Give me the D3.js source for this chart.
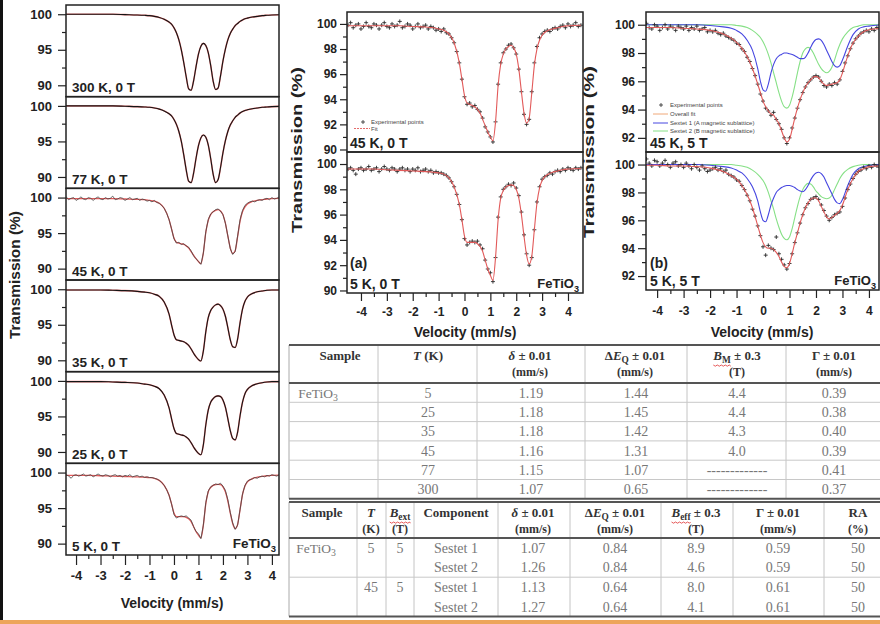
<!DOCTYPE html>
<html>
<head>
<meta charset="utf-8">
<script src="https://cdn.jsdelivr.net/npm/d3@7"></script>
<style>
  body { margin: 0; background: #fff; }
  svg { display: block; }
</style>
</head>
<body>
<svg id="fig" width="880" height="624"></svg>
<script>
// ---- spectra data (velocity in mm/s, transmission in %) ----
const velocity = [-4.5,-4.4,-4.3,-4.2,-4.1,-4.0,-3.9,-3.8,-3.7,-3.6,-3.5,-3.4,-3.3,-3.2,-3.1,-3.0,-2.9,-2.8,-2.7,-2.6,
  -2.5,-2.4,-2.3,-2.2,-2.1,-2.0,-1.9,-1.8,-1.7,-1.6,-1.5,-1.4,-1.3,-1.2,-1.1,-1.0,-0.9,-0.8,-0.7,-0.6,
  -0.5,-0.4,-0.3,-0.2,-0.1,0.0,0.1,0.2,0.3,0.4,0.5,0.6,0.7,0.8,0.9,1.0,1.1,1.2,1.3,1.4,
  1.5,1.6,1.7,1.8,1.9,2.0,2.1,2.2,2.3,2.4,2.5,2.6,2.7,2.8,2.9,3.0,3.1,3.2,3.3,3.4,
  3.5,3.6,3.7,3.8,3.9,4.0,4.1,4.2,4.3,4.4,4.5];

const exp45K0T = [99.9,100.1,99.7,99.9,100.0,99.6,99.8,100.1,99.8,99.7,
  100.0,99.9,99.6,99.9,100.1,99.8,99.7,100.0,99.8,99.9,
  100.2,99.7,99.8,100.0,99.9,99.6,99.8,100.0,99.7,99.8,
  99.9,99.6,99.8,99.7,99.5,99.6,
  99.4,99.6,99.3,99.2,98.9,98.5,97.8,96.9,95.6,94.2,
  93.6,93.7,93.4,93.5,93.2,93.0,92.5,91.8,91.4,91.0,
  90.6,92.2,95.2,96.9,97.7,98.0,98.3,98.4,98.1,97.6,
  96.4,94.6,92.8,92.0,92.4,94.6,96.9,98.2,98.9,99.2,
  99.4,99.5,99.4,99.6,99.7,99.6,99.8,99.9,99.7,100.0,
  99.8,99.9,100.1,99.8,99.9];

const exp5K0T = [99.6,99.7,99.5,99.2,99.6,99.7,99.5,99.6,99.8,99.5,
  99.6,99.7,99.4,99.6,99.8,99.6,99.5,99.7,99.6,99.4,
  99.6,99.7,99.5,99.6,99.4,99.6,99.5,99.7,99.4,99.5,
  99.6,99.4,99.5,99.3,99.4,99.3,
  99.3,99.2,99.1,98.9,98.6,98.2,97.6,96.8,95.6,94.1,
  93.6,93.8,93.9,93.8,93.9,93.6,93.3,92.4,91.7,91.4,
  90.7,92.6,95.8,97.4,98.0,98.2,98.4,98.3,98.5,98.1,
  97.5,96.2,94.4,92.9,92.0,92.6,94.8,97.0,98.2,98.8,
  99.0,99.1,99.3,99.2,99.4,99.5,99.4,99.6,99.5,99.7,
  99.6,99.5,99.7,99.6,99.7];

const exp45K5T = [99.9,100.1,99.8,99.7,100.0,99.9,99.6,99.8,100.0,99.7,
  99.9,99.8,99.6,99.9,99.8,99.7,99.9,99.6,99.8,99.7,
  99.9,99.6,99.7,99.8,99.5,99.6,
  99.5,99.6,99.4,99.3,99.4,99.2,99.1,99.0,98.9,98.7,
  98.6,98.3,98.1,97.7,97.4,96.9,96.4,95.8,95.1,94.6,
  94.1,93.9,93.6,93.8,93.3,93.0,92.6,92.0,91.6,92.0,
  92.7,93.4,94.1,94.7,95.2,95.6,95.9,96.1,96.3,96.4,
  96.3,96.0,95.7,95.6,95.8,95.7,95.9,95.8,96.1,96.7,
  97.3,97.8,98.3,98.7,99.0,99.2,99.4,99.5,99.6,99.5,
  99.7,99.6,99.8,99.7,99.6];

const exp5K5T = [100.2,100.4,100.1,99.9,100.3,100.2,99.9,100.1,100.3,100.0,
  99.8,100.1,100.2,99.9,100.0,99.8,100.1,99.9,99.7,100.0,
  99.8,99.6,99.9,99.7,99.5,99.6,
  99.7,99.8,99.6,99.7,99.5,99.6,99.3,99.2,99.1,98.9,
  98.8,98.5,98.2,97.8,97.4,96.8,96.3,95.6,94.9,94.1,
  93.5,94.2,94.0,93.9,94.8,93.6,93.2,92.8,92.5,92.9,
  93.6,94.4,95.1,95.8,96.4,96.9,97.2,97.5,97.6,97.7,
  97.5,97.1,96.7,96.3,96.0,96.2,96.4,96.5,96.6,97.0,
  97.6,98.2,98.6,99.0,99.3,99.5,99.6,99.8,99.7,99.9,
  99.8,100.0,99.9,99.8,99.9];

// fitted curves, sampled on a coarser velocity grid
const fitV = [-4.5,-4.0,-3.5,-3.0,-2.5,-2.0,-1.5,-1.2,-1.0,-0.8,-0.6,-0.4,-0.2,
  -0.1,0.0,0.1,0.2,0.3,0.4,0.5,0.6,0.7,0.8,0.9,1.0,1.1,1.2,1.3,1.4,1.5,1.6,1.7,1.8,1.9,2.0,
  2.1,2.2,2.3,2.4,2.5,2.6,2.7,2.8,2.9,3.0,3.2,3.4,3.6,3.8,4.0,4.5];

const fit300K = [100,100,100,100,100,99.95,99.9,99.85,99.8,99.7,99.55,99.3,98.9,
  98.6,98.1,97.4,96.4,95.0,93.2,91.2,89.5,89.3,90.6,92.6,94.4,95.5,95.9,95.6,94.6,92.8,90.6,89.4,89.6,91.3,93.4,
  95.1,96.4,97.3,97.9,98.4,98.7,99.0,99.2,99.35,99.45,99.6,99.7,99.8,99.85,99.9,99.95];
const fit77K = [100,100,100,100,100,99.95,99.9,99.85,99.8,99.7,99.55,99.3,98.9,
  98.6,98.1,97.4,96.4,95.0,93.1,91.0,89.4,89.2,90.5,92.6,94.4,95.5,95.9,95.6,94.5,92.6,90.4,89.2,89.6,91.3,93.4,
  95.1,96.4,97.3,97.9,98.4,98.7,99.0,99.2,99.35,99.45,99.6,99.7,99.8,99.85,99.9,99.95];
const fit45K = [99.85,99.85,99.85,99.85,99.85,99.8,99.75,99.7,99.6,99.5,99.2,98.5,96.9,
  95.6,94.3,93.7,93.6,93.5,93.4,93.2,92.9,92.4,91.9,91.4,91.0,90.7,92.2,95.1,96.8,97.6,98.0,98.2,98.3,98.1,97.6,
  96.4,94.6,92.9,92.1,92.5,94.5,96.7,98.0,98.7,99.1,99.45,99.6,99.7,99.8,99.85,99.9];
const fit35K = [99.9,99.9,99.9,99.9,99.85,99.8,99.7,99.6,99.5,99.3,99.0,98.2,96.5,
  95.0,93.6,92.9,92.8,92.7,92.6,92.4,92.1,91.6,91.0,90.5,90.1,89.9,91.3,94.0,96.0,97.0,97.5,97.8,97.9,97.7,97.2,
  96.2,94.6,92.9,91.9,91.8,93.0,95.3,97.2,98.3,98.9,99.4,99.65,99.75,99.85,99.9,99.9];
const fit25K = [99.9,99.9,99.9,99.9,99.85,99.8,99.7,99.55,99.45,99.25,98.9,98.0,96.2,
  94.7,93.3,92.6,92.5,92.4,92.3,92.1,91.8,91.3,90.7,90.2,89.8,89.6,91.0,93.8,95.9,97.0,97.5,97.8,97.9,97.8,97.3,
  96.3,94.7,93.0,91.9,91.7,92.8,95.1,97.0,98.2,98.8,99.35,99.6,99.75,99.85,99.9,99.9];
const fit5K = [99.6,99.6,99.6,99.55,99.5,99.45,99.4,99.35,99.3,99.2,98.9,98.2,96.8,
  95.6,94.3,93.8,93.8,93.8,93.8,93.7,93.5,93.1,92.4,91.7,91.2,90.8,92.6,95.6,97.3,97.9,98.2,98.3,98.35,98.3,98.0,
  97.3,96.0,94.3,92.8,92.1,92.7,94.8,96.9,98.1,98.7,99.15,99.35,99.45,99.55,99.6,99.65];

const fit45K5T = [99.8,99.8,99.8,99.75,99.7,99.6,99.35,99.05,98.75,98.35,97.75,96.9,95.8,
  95.2,94.6,94.2,93.9,93.7,93.6,93.3,93.0,92.5,92.0,91.7,91.9,92.6,93.4,94.1,94.7,95.2,95.6,95.9,96.1,96.3,96.35,
  96.25,96.0,95.8,95.7,95.75,95.8,95.85,95.9,96.1,96.6,97.8,98.7,99.2,99.5,99.65,99.75];
const sextet1_45K = [100,100,100,100,100,99.95,99.85,99.75,99.6,99.35,98.9,98.2,96.9,
  96.0,95.4,95.3,95.8,96.6,97.2,97.6,97.8,97.9,98.0,98.0,97.95,97.9,97.8,97.7,97.6,97.6,97.7,98.0,98.4,98.75,98.95,
  99.0,98.9,98.6,98.2,97.8,97.4,97.1,97.0,97.1,97.5,98.5,99.3,99.7,99.85,99.9,100];
const sextet2_45K = [100,100,100,100,100,100,100,100,99.95,99.9,99.8,99.6,99.3,
  99.1,98.8,98.4,97.9,97.3,96.6,95.9,95.2,94.6,94.2,94.1,94.3,94.9,95.7,96.6,97.4,98.0,98.3,98.4,98.3,98.0,97.6,
  97.2,96.9,96.7,96.6,96.7,97.0,97.5,98.1,98.6,99.0,99.5,99.8,99.9,100,100,100];

const fit5K5T = [99.95,99.95,99.9,99.9,99.85,99.75,99.5,99.2,98.95,98.5,97.85,96.9,95.6,
  94.95,94.4,94.1,94.0,94.0,93.9,93.7,93.4,93.0,92.7,92.6,92.9,93.6,94.4,95.1,95.8,96.4,96.9,97.25,97.5,97.6,97.6,
  97.4,97.0,96.6,96.25,96.1,96.2,96.35,96.5,96.7,97.1,98.2,99.0,99.5,99.7,99.85,99.9];
const sextet1_5K = [100,100,100,100,100,99.95,99.85,99.75,99.6,99.4,99.0,98.4,97.4,
  96.6,96.0,95.9,96.4,97.1,97.6,98.0,98.2,98.35,98.45,98.5,98.5,98.45,98.35,98.2,98.1,98.05,98.2,98.5,98.9,99.2,99.4,
  99.45,99.35,99.1,98.7,98.3,97.9,97.5,97.25,97.2,97.5,98.5,99.3,99.7,99.85,99.95,100];
const sextet2_5K = [100,100,100,100,100,100,100,100,99.95,99.9,99.8,99.6,99.3,
  99.1,98.85,98.5,98.0,97.4,96.8,96.1,95.5,95.0,94.7,94.6,94.8,95.4,96.2,97.0,97.7,98.2,98.5,98.65,98.6,98.4,98.1,
  97.9,97.7,97.6,97.55,97.6,97.8,98.2,98.6,99.0,99.3,99.65,99.85,99.95,100,100,100];

// ---- labels and ticks ----
const leftLabels = ['300 K, 0 T', '77 K, 0 T', '45 K, 0 T', '35 K, 0 T', '25 K, 0 T', '5 K, 0 T'];
const velocityTicks = [-4, -3, -2, -1, 0, 1, 2, 3, 4];
const velocityMinor = [-3.5, -2.5, -1.5, -0.5, 0.5, 1.5, 2.5, 3.5];
const leftYTicks = [90, 95, 100];
const leftYMinor = [92.5, 97.5];
const midYTicks = [90, 92, 94, 96, 98, 100];
const midYMinor = [91, 93, 95, 97, 99];
const rightYTicks = [92, 94, 96, 98, 100];
const rightYMinor = [93, 95, 97, 99];
const legendA = ['Experimental points', 'Fit'];
const legendB = ['Experimental points', 'Overall fit', 'Sextet 1 (A magnetic sublattice)', 'Sextet 2 (B magnetic sublattice)'];

// ---- tables ----
const t1Head = [
  [[['Sample']], []],
  [[['T', 'i'], [' (K)']], []],
  [[['δ', 'i'], [' ± 0.01']], [['(mm/s)']]],
  [[['Δ'], ['E', 'i'], ['Q', 'sub'], [' ± 0.01']], [['(mm/s)']]],
  [[['B', 'i'], ['M', 'sub'], [' ± 0.3']], [['(T)']]],
  [[['Γ'], [' ± 0.01']], [['(mm/s)']]]
];
const t1Temp = ['5', '25', '35', '45', '77', '300'];
const t1Delta = ['1.19', '1.18', '1.18', '1.16', '1.15', '1.07'];
const t1DEQ = ['1.44', '1.45', '1.42', '1.31', '1.07', '0.65'];
const t1BM = ['4.4', '4.4', '4.3', '4.0', '-------------', '-------------'];
const t1Gamma = ['0.39', '0.38', '0.40', '0.39', '0.41', '0.37'];

const t2Head = [
  [[['Sample']], []],
  [[['T', 'i']], [['(K)']]],
  [[['B', 'i'], ['ext', 'sub']], [['(T)']]],
  [[['Component']], []],
  [[['δ', 'i'], [' ± 0.01']], [['(mm/s)']]],
  [[['Δ'], ['E', 'i'], ['Q', 'sub'], [' ± 0.01']], [['(mm/s)']]],
  [[['B', 'i'], ['eff', 'sub'], [' ± 0.3']], [['(T)']]],
  [[['Γ'], [' ± 0.01']], [['(mm/s)']]],
  [[['RA']], [['(%)']]]
];
const t2Temp = ['5', '', '45', ''];
const t2Bext = ['5', '', '5', ''];
const t2Comp = ['Sestet 1', 'Sestet 2', 'Sestet 1', 'Sestet 2'];
const t2Delta = ['1.07', '1.26', '1.13', '1.27'];
const t2DEQ = ['0.84', '0.84', '0.64', '0.64'];
const t2Beff = ['8.9', '4.6', '8.0', '4.1'];
const t2Gamma = ['0.59', '0.59', '0.61', '0.61'];
const t2RA = ['50', '50', '50', '50'];

// ---- drawing ----
const SANS = '"Liberation Sans", Arial, sans-serif';
const SERIF = '"Liberation Serif", "Times New Roman", serif';
const INK = '#222';
const RED = '#e25a5a';

const svg = d3.select('#fig');
const defs = svg.append('defs');
svg.append('rect').attr('width', 880).attr('height', 624).attr('fill', '#fff');

const pairs = (xs, ys) => xs.map((v, i) => [v, ys[i]]);

function styleAxis(g, size) {
  g.select('.domain').remove();
  g.selectAll('line').attr('stroke', INK).attr('stroke-width', 1.2);
  g.selectAll('text')
    .attr('font-family', SANS)
    .attr('font-weight', 'bold')
    .attr('font-size', size)
    .attr('fill', INK);
}

function drawAxes(g, x, y, c) {
  const [x0] = x.range();
  const [yb] = y.range();
  styleAxis(g.append('g').attr('transform', `translate(${x0},0)`)
    .call(d3.axisLeft(y).tickValues(c.yMajor).tickSize(c.majorLen).tickPadding(c.pad).tickFormat(d => String(d))), c.size);
  styleAxis(g.append('g').attr('transform', `translate(${x0},0)`)
    .call(d3.axisLeft(y).tickValues(c.yMinor).tickSize(c.minorLen).tickFormat('')), c.size);
  if (c.xAxis) {
    styleAxis(g.append('g').attr('transform', `translate(0,${yb})`)
      .call(d3.axisBottom(x).tickValues(velocityTicks).tickSize(c.xMajorLen).tickPadding(c.xPad).tickFormat(d => String(d))), c.size);
    styleAxis(g.append('g').attr('transform', `translate(0,${yb})`)
      .call(d3.axisBottom(x).tickValues(velocityMinor).tickSize(c.minorLen).tickFormat('')), c.size);
  }
}

function frame(g, x, y) {
  const [x0, x1] = x.range();
  const [yb, yt] = y.range();
  g.append('rect').attr('x', x0).attr('y', yt).attr('width', x1 - x0).attr('height', yb - yt)
    .attr('fill', 'none').attr('stroke', INK).attr('stroke-width', 1.5);
}

let clipId = 0;
function clipFor(x, y) {
  const id = 'clip' + (clipId++);
  const [x0, x1] = x.range();
  const [yb, yt] = y.range();
  defs.append('clipPath').attr('id', id).append('rect')
    .attr('x', x0).attr('y', yt).attr('width', x1 - x0).attr('height', yb - yt);
  return `url(#${id})`;
}

function curve(g, x, y, pts, color, width, interp) {
  g.append('path')
    .attr('d', d3.line().x(d => x(d[0])).y(d => y(d[1])).curve(interp || d3.curveMonotoneX)(pts))
    .attr('fill', 'none').attr('stroke', color).attr('stroke-width', width)
    .attr('stroke-linejoin', 'round');
}

function crosses(g, x, y, pts, r) {
  g.append('path')
    .attr('d', pts.map(p => `M${x(p[0]) - r},${y(p[1])}h${2 * r}M${x(p[0])},${y(p[1]) - r}v${2 * r}`).join(''))
    .attr('fill', 'none').attr('stroke', '#2a2a2a').attr('stroke-width', 0.9);
}

function label(g, x, y, txt, size, anchor) {
  return g.append('text').attr('x', x).attr('y', y).attr('font-family', SANS)
    .attr('font-weight', 'bold').attr('font-size', size).attr('fill', INK)
    .attr('text-anchor', anchor || 'start').text(txt);
}

function formula(g, x, y, size, anchor) {
  const t = label(g, x, y, '', size, anchor);
  t.append('tspan').text('FeTiO');
  t.append('tspan').attr('dy', 4).attr('font-size', size * 0.7).text('3');
}

function yTitle(g, cx, cy, len, size) {
  g.append('text').attr('transform', `translate(${cx},${cy}) rotate(-90)`)
    .attr('text-anchor', 'middle').attr('font-family', SANS).attr('font-weight', 'bold')
    .attr('font-size', size).attr('fill', INK)
    .attr('textLength', len).attr('lengthAdjust', 'spacingAndGlyphs')
    .text('Transmission (%)');
}

// left black edge and bottom orange rule
svg.append('rect').attr('x', 0).attr('y', 0).attr('width', 3).attr('height', 624).attr('fill', '#111');
svg.append('rect').attr('x', 0).attr('y', 620).attr('width', 880).attr('height', 4).attr('fill', '#eda55b');

// ---- left stack of six spectra ----
{
  const g = svg.append('g');
  const x = d3.scaleLinear().domain([-4.41, 4.29]).range([66, 279]);
  const top = 5, bottom = 555, h = (bottom - top) / 6;
  const leftFits = [fit300K, fit77K, fit45K, fit35K, fit25K, fit5K];
  const leftData = [null, null, exp45K0T, null, null, exp5K0T];
  leftFits.forEach((fit, i) => {
    const y = d3.scaleLinear().domain([88.4, 101.3]).range([top + (i + 1) * h, top + i * h]);
    const last = i === leftFits.length - 1;
    drawAxes(g, x, y, {
      yMajor: leftYTicks, yMinor: leftYMinor, majorLen: 8, minorLen: 4, pad: 6, size: 13,
      xAxis: last, xMajorLen: 10, xPad: 6
    });
    const pg = g.append('g').attr('clip-path', clipFor(x, y));
    const fitPts = pairs(fitV, fit);
    if (leftData[i]) {
      curve(pg, x, y, fitPts, RED, 1.3);
      curve(pg, x, y, pairs(velocity, leftData[i]), '#444', 0.8, d3.curveLinear);
    } else {
      curve(pg, x, y, fitPts, '#f08080', 1.6);
      curve(pg, x, y, fitPts, '#151515', 1.1);
    }
    frame(g, x, y);
    label(g, 72, top + (i + 1) * h - 4.5, leftLabels[i], 13.5);
    if (last) formula(g, 276, top + (i + 1) * h - 7, 13.5, 'end');
  });
  label(g, 172, 608, 'Velocity (mm/s)', 14, 'middle');
  yTitle(g, 20, 275, 128, 15);
}

// ---- (a) zero-field spectra ----
{
  const g = svg.append('g');
  const x = d3.scaleLinear().domain([-4.54, 4.58]).range([347, 583]);
  const panels = [
    { top: 12, bottom: 152, data: exp45K0T, fit: fit45K, text: '45 K, 0 T' },
    { top: 152, bottom: 293, data: exp5K0T, fit: fit5K, text: '5 K, 0 T' }
  ];
  panels.forEach((p, i) => {
    const y = d3.scaleLinear().domain([89.8, 100.95]).range([p.bottom, p.top]);
    drawAxes(g, x, y, {
      yMajor: midYTicks, yMinor: midYMinor, majorLen: 7, minorLen: 4, pad: 3, size: 12,
      xAxis: i === 1, xMajorLen: 8, xPad: 6
    });
    const pg = g.append('g').attr('clip-path', clipFor(x, y));
    crosses(pg, x, y, pairs(velocity, p.data), 2);
    curve(pg, x, y, pairs(fitV, p.fit), RED, 1.1);
    frame(g, x, y);
    label(g, 350, p.bottom - 4, p.text, 14);
    if (i === 0) {
      // legend
      const lg = g.append('g').attr('font-family', SANS).attr('font-size', 6).attr('fill', '#444');
      lg.append('path').attr('d', 'M361,122h4M363,120v4').attr('stroke', '#2a2a2a').attr('stroke-width', 0.8);
      lg.append('text').attr('x', 371).attr('y', 124).text(legendA[0]);
      lg.append('line').attr('x1', 354).attr('x2', 370).attr('y1', 128.5).attr('y2', 128.5)
        .attr('stroke', RED).attr('stroke-width', 0.9).attr('stroke-dasharray', '2,1');
      lg.append('text').attr('x', 371).attr('y', 130.5).text(legendA[1]);
    } else {
      label(g, 350, 268, '(a)', 14);
      formula(g, 579, p.bottom - 5, 13, 'end');
    }
  });
  label(g, 465, 337, 'Velocity (mm/s)', 14, 'middle');
  yTitle(g, 302, 150, 166, 15);
}

// ---- (b) 5 T spectra ----
{
  const g = svg.append('g');
  const x = d3.scaleLinear().domain([-4.42, 4.38]).range([646, 879]);
  const BLUE = '#4646e0', GREEN = '#86e086';
  const panels = [
    { top: 12, bottom: 152, data: exp45K5T, fit: fit45K5T, s1: sextet1_45K, s2: sextet2_45K, text: '45 K, 5 T' },
    { top: 152, bottom: 290, data: exp5K5T, fit: fit5K5T, s1: sextet1_5K, s2: sextet2_5K, text: '5 K, 5 T' }
  ];
  panels.forEach((p, i) => {
    const y = d3.scaleLinear().domain([91.0, 100.9]).range([p.bottom, p.top]);
    drawAxes(g, x, y, {
      yMajor: rightYTicks, yMinor: rightYMinor, majorLen: 8, minorLen: 4, pad: 3, size: 12,
      xAxis: i === 1, xMajorLen: 8, xPad: 8
    });
    const pg = g.append('g').attr('clip-path', clipFor(x, y));
    curve(pg, x, y, pairs(fitV, p.s2), GREEN, 1.1);
    curve(pg, x, y, pairs(fitV, p.s1), BLUE, 1.1);
    crosses(pg, x, y, pairs(velocity, p.data), 2);
    curve(pg, x, y, pairs(fitV, p.fit), RED, 1.1);
    frame(g, x, y);
    label(g, 650, p.bottom - 4, p.text, 14);
    if (i === 0) {
      const lg = g.append('g').attr('font-family', SANS).attr('font-size', 6).attr('fill', '#444');
      const ys = [105, 114, 123, 131];
      const cols = ['#2a2a2a', '#f0a878', BLUE, GREEN];
      legendB.forEach((t, k) => {
        if (k === 0) {
          lg.append('path').attr('d', `M659,${ys[k]}h4M661,${ys[k] - 2}v4`).attr('stroke', cols[k]).attr('stroke-width', 0.8);
        } else {
          lg.append('line').attr('x1', 653).attr('x2', 668).attr('y1', ys[k]).attr('y2', ys[k])
            .attr('stroke', cols[k]).attr('stroke-width', 1);
        }
        lg.append('text').attr('x', 670).attr('y', ys[k] + 2).text(t);
      });
    } else {
      label(g, 650, 268, '(b)', 14);
      formula(g, 876, p.bottom - 5, 13, 'end');
    }
  });
  label(g, 762, 337, 'Velocity (mm/s)', 14, 'middle');
  yTitle(g, 594, 152, 172, 15);
}

// ---- tables ----
function rich(parent, x, y, segs, size, weight, color) {
  const t = parent.append('text').attr('x', x).attr('y', y).attr('text-anchor', 'middle')
    .attr('font-family', SERIF).attr('font-size', size).attr('font-weight', weight).attr('fill', color);
  let shift = 0;
  segs.forEach(s => {
    const ts = t.append('tspan').text(s[0]);
    if (s[1] === 'i') ts.attr('font-style', 'italic');
    if (s[1] === 'sub') {
      ts.attr('dy', 3 - shift).attr('font-size', size * 0.72);
      shift = 3;
    } else if (shift) {
      ts.attr('dy', -shift);
      shift = 0;
    }
  });
  return t;
}

// red spell-check squiggle under the first n characters of a header text
function squiggle(g, textSel, n, y) {
  const node = textSel.node();
  const x0 = node.getStartPositionOfChar(0).x;
  const x1 = node.getEndPositionOfChar(n - 1).x;
  let d = `M${x0},${y}`;
  for (let xx = x0, k = 0; xx < x1; xx += 2, k++) d += `L${Math.min(xx + 2, x1)},${y + (k % 2 ? 0 : 1.2)}`;
  g.append('path').attr('d', d).attr('fill', 'none').attr('stroke', '#e03030').attr('stroke-width', 0.8);
}

function drawTable(cfg) {
  const g = svg.append('g');
  const nRows = cfg.columns[0].length;
  const bottom = cfg.headBottom + nRows * cfg.rowH;
  const cols = cfg.cols;
  cols.slice(1, -1).forEach(cx => {
    g.append('line').attr('x1', cx).attr('x2', cx).attr('y1', cfg.top).attr('y2', bottom)
      .attr('stroke', '#c4c4c4').attr('stroke-width', 1);
  });
  g.append('line').attr('x1', cols[0]).attr('x2', cols[0]).attr('y1', cfg.top).attr('y2', bottom)
    .attr('stroke', '#aaa').attr('stroke-width', 1);
  cfg.rowLines.forEach(r => {
    const yy = cfg.headBottom + r * cfg.rowH;
    g.append('line').attr('x1', cols[0]).attr('x2', cols[cols.length - 1]).attr('y1', yy).attr('y2', yy)
      .attr('stroke', '#c8c8c8').attr('stroke-width', 1);
  });
  [cfg.top, cfg.headBottom, bottom].forEach(yy => {
    g.append('line').attr('x1', cols[0]).attr('x2', cols[cols.length - 1]).attr('y1', yy).attr('y2', yy)
      .attr('stroke', '#555').attr('stroke-width', 2);
  });
  cfg.head.forEach((h, k) => {
    const cx = cfg.headX[k];
    const t = rich(g, cx, cfg.top + 15, h[0], 13, 'bold', '#333');
    if (cfg.squiggles[k]) squiggle(g, t, cfg.squiggles[k], cfg.top + 20);
    if (h[1].length) rich(g, cx, cfg.top + 31, h[1], 12, 'bold', '#333');
  });
  cfg.columns.forEach((col, k) => {
    col.forEach((v, r) => {
      if (!v) return;
      const yy = cfg.headBottom + (r + 0.5) * cfg.rowH + 5;
      if (v === 'FeTiO3') {
        rich(g, cfg.dataX[k], yy, [['FeTiO'], ['3', 'sub']], 13.5, 'normal', '#777');
      } else {
        rich(g, cfg.dataX[k], yy, [[v]], 14, 'normal', '#777');
      }
    });
  });
}

drawTable({
  top: 345, headBottom: 383, rowH: 19.3,
  cols: [289, 378, 477, 585, 687, 786, 880],
  headX: [340, 428, 530, 635, 737, 834],
  dataX: [318, 428, 531, 636, 737, 834],
  head: t1Head,
  squiggles: { 4: 2 },
  columns: [['FeTiO3', '', '', '', '', ''], t1Temp, t1Delta, t1DEQ, t1BM, t1Gamma],
  rowLines: [1, 2, 3, 4, 5]
});

drawTable({
  top: 502, headBottom: 538, rowH: 19.6,
  cols: [289, 357, 386, 414, 498, 570, 661, 733, 824, 880],
  headX: [322, 371, 400, 456, 533, 615, 696, 778, 858],
  dataX: [316, 371, 400, 456, 533, 615, 696, 778, 858],
  head: t2Head,
  squiggles: { 2: 4, 6: 4 },
  columns: [['FeTiO3', '', '', ''], t2Temp, t2Bext, t2Comp, t2Delta, t2DEQ, t2Beff, t2Gamma, t2RA],
  rowLines: [2]
});
</script>
</body>
</html>
